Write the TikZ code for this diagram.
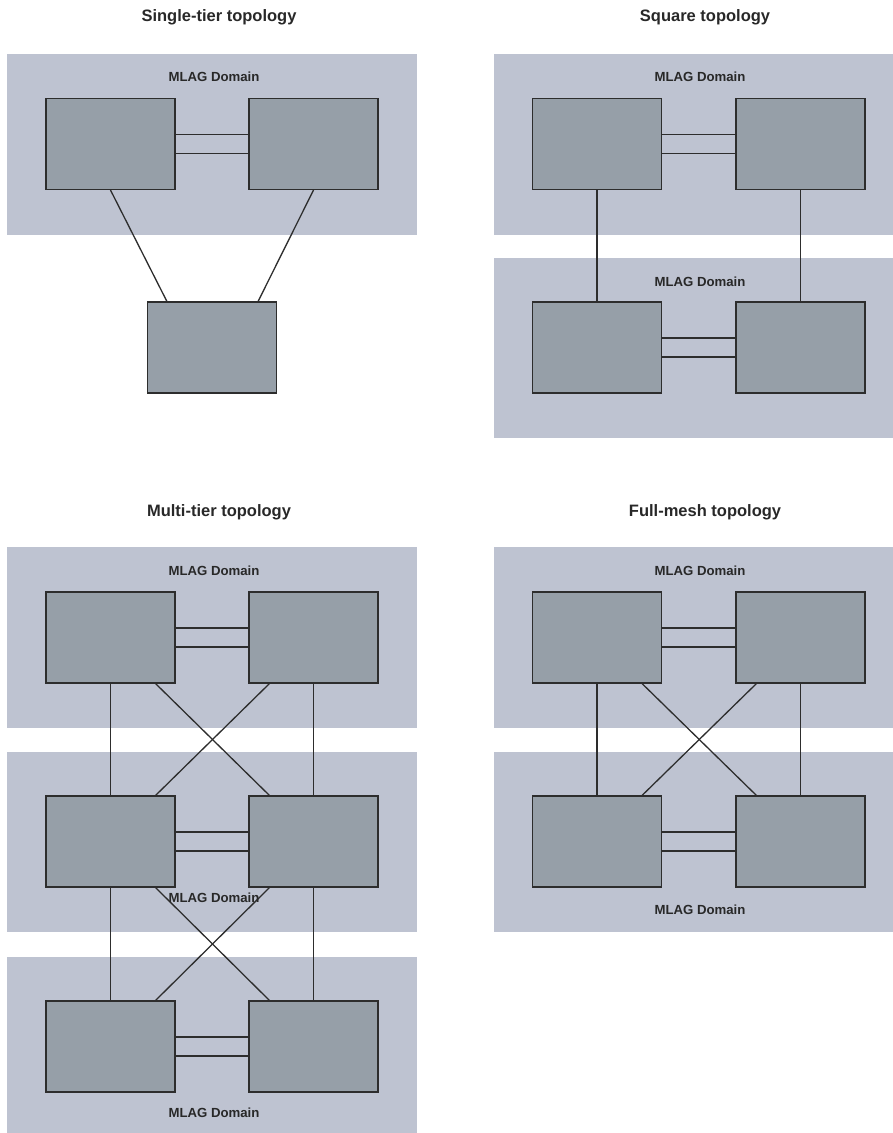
\documentclass[tikz,border=0pt]{standalone}
\usepackage{fontspec}
\setmainfont{Liberation Sans}
\usetikzlibrary{calc}
\definecolor{domc}{RGB}{190,195,209}
\definecolor{boxc}{RGB}{150,159,168}
\definecolor{linec}{RGB}{45,45,45}
\definecolor{txtc}{RGB}{40,40,40}
\pgfdeclarelayer{bg}
\pgfdeclarelayer{lines}
\pgfsetlayers{bg,lines,main}
\begin{document}
\begin{tikzpicture}[x=1pt,y=-1pt,
  mlagdom/.style={fill=domc,draw=none},
  sw/.style={draw=linec,line width=1.2pt,fill=boxc,minimum width=129pt,minimum height=91pt,inner sep=0pt},
  link/.style={draw=linec,line width=1.3pt},
  title/.style={font=\fontsize{16.5}{18}\selectfont\bfseries,text=txtc,inner sep=0pt},
  dlabel/.style={font=\fontsize{13.2}{15}\selectfont\bfseries,text=txtc,inner sep=0pt}]
\useasboundingbox (0,0) rectangle (893,1133);
% domains
\begin{pgfonlayer}{bg}
\fill[white] (0,0) rectangle (893,1133);
\path[mlagdom] (7,54) rectangle (417,235);
\path[mlagdom] (494,54) rectangle (893,235);
\path[mlagdom] (494,258) rectangle (893,438);
\path[mlagdom] (7,547) rectangle (417,728);
\path[mlagdom] (7,752) rectangle (417,932);
\path[mlagdom] (7,957) rectangle (417,1133);
\path[mlagdom] (494,547) rectangle (893,728);
\path[mlagdom] (494,752) rectangle (893,932);
\end{pgfonlayer}
% titles
\node[title] (t1) at (219,17) {Single-tier topology};
\node[title] (t2) at (705,17) {Square topology};
\node[title] (t3) at (219,512) {Multi-tier topology};
\node[title] (t4) at (705,512) {Full-mesh topology};
% switches
\node[sw] (a1) at (110.5,144) {};
\node[sw] (a2) at (313.5,144) {};
\node[sw] (a3) at (212,347.5) {};
\node[sw] (b1) at (597,144) {};
\node[sw] (b2) at (800.5,144) {};
\node[sw] (b3) at (597,347.5) {};
\node[sw] (b4) at (800.5,347.5) {};
\node[sw] (c1) at (110.5,637.5) {};
\node[sw] (c2) at (313.5,637.5) {};
\node[sw] (c3) at (110.5,841.5) {};
\node[sw] (c4) at (313.5,841.5) {};
\node[sw] (c5) at (110.5,1046.5) {};
\node[sw] (c6) at (313.5,1046.5) {};
\node[sw] (d1) at (597,637.5) {};
\node[sw] (d2) at (800.5,637.5) {};
\node[sw] (d3) at (597,841.5) {};
\node[sw] (d4) at (800.5,841.5) {};
% links
\begin{pgfonlayer}{lines}
\foreach \u/\v in {a1/a2,b1/b2,b3/b4,c1/c2,c3/c4,c5/c6,d1/d2,d3/d4}{
  \draw[link] ([yshift=9.5pt]\u.east) -- ([yshift=9.5pt]\v.west);
  \draw[link] ([yshift=-9.5pt]\u.east) -- ([yshift=-9.5pt]\v.west);
}
\draw[link] (a1.south) -- ([xshift=20pt]a3.north west);
\draw[link] (a2.south) -- ([xshift=-19pt]a3.north east);
\foreach \u/\v in {b1/b3,b2/b4,c1/c3,c2/c4,c3/c5,c4/c6,d1/d3,d2/d4}{
  \draw[link] (\u.south) -- (\v.north);
}
\foreach \p/\q/\r/\s in {c1/c2/c3/c4,c3/c4/c5/c6,d1/d2/d3/d4}{
  \draw[link] ([xshift=-20pt]\p.south east) -- ([xshift=21pt]\s.north west);
  \draw[link] ([xshift=21pt]\q.south west) -- ([xshift=-20pt]\r.north east);
}
\end{pgfonlayer}
% domain labels
\node[dlabel] (l1) at (214,77) {MLAG Domain};
\node[dlabel] (l2) at (700,77) {MLAG Domain};
\node[dlabel] (l3) at (700,282) {MLAG Domain};
\node[dlabel] (l4) at (214,571) {MLAG Domain};
\node[dlabel] (l5) at (214,898) {MLAG Domain};
\node[dlabel] (l6) at (214,1113) {MLAG Domain};
\node[dlabel] (l7) at (700,571) {MLAG Domain};
\node[dlabel] (l8) at (700,910) {MLAG Domain};
\end{tikzpicture}
\end{document}
